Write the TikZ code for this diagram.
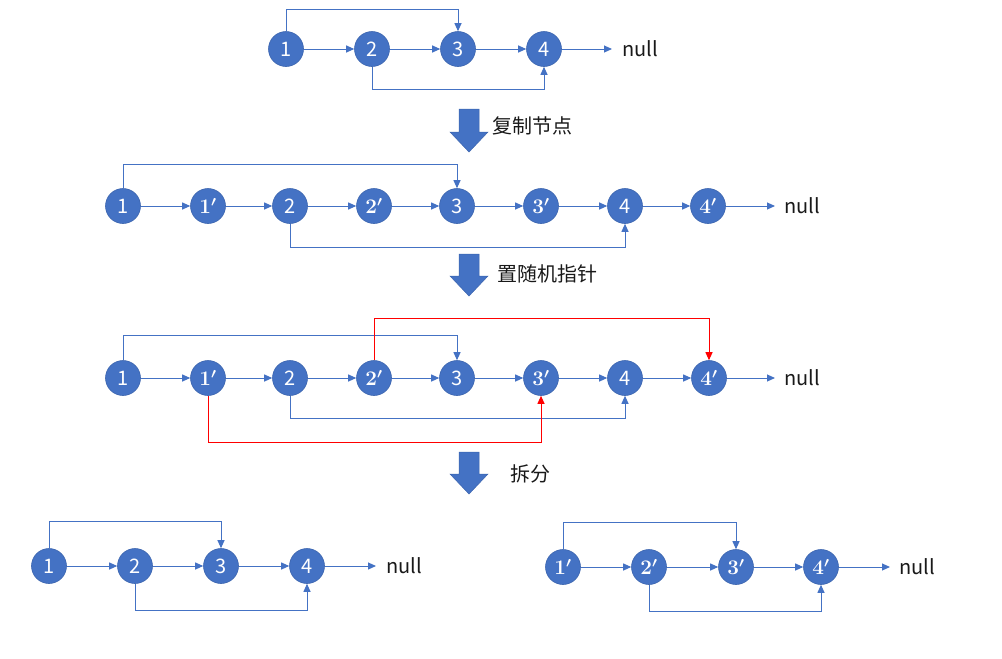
\documentclass[tikz,border=0pt]{standalone}
\usepackage{fontspec}
\setsansfont{Noto Sans CJK SC}
\newfontfamily\cjk{Noto Sans CJK SC}
\usetikzlibrary{arrows.meta}
\definecolor{nblue}{HTML}{4472C4}
\definecolor{nedge}{HTML}{3B64AE}
\definecolor{lred}{HTML}{FF0000}
\tikzset{
  lnode/.style={circle, minimum size=35pt, inner sep=0pt, fill=nblue, draw=nedge, line width=0.6pt, text=white, font=\fontsize{20}{20}\selectfont\sffamily},
  pnode/.style={lnode, font=\fontsize{20}{20}\selectfont\boldmath},
  link/.style={draw=nblue, line width=1pt, -{Triangle[length=8pt,width=7pt]}},
  rlink/.style={draw=lred, line width=1pt, -{Triangle[length=8pt,width=7pt]}},
  nulltxt/.style={inner sep=0pt, font=\fontsize{20}{20}\selectfont\sffamily, text=black!90},
  lbl/.style={inner sep=0pt, anchor=west, font=\fontsize{20}{20}\selectfont\cjk, text=black!90},
  bigarrow/.style={fill=nblue, draw=nedge, line width=0.5pt}
}
\begin{document}
\begin{tikzpicture}[x=1pt,y=-1pt]
\useasboundingbox (0,0) rectangle (1002,659);
% ---------- Row A ----------
\node[lnode] (a1) at (286,49) {1};
\node[lnode] (a2) at (372,49) {2};
\node[lnode] (a3) at (458,49) {3};
\node[lnode] (a4) at (544,49) {4};
\node[nulltxt] (an) at (640,49) {null};
\coordinate (ae) at (612,49);
\draw[link] (a1) -- (a2);
\draw[link] (a2) -- (a3);
\draw[link] (a3) -- (a4);
\draw[link] (a4) -- (ae);
\draw[link] (a1.north) -- ++(0,-22) -| (a3.north);
\draw[link] (a2.south) -- ++(0,23) -| (a4.south);
% ---------- Arrow 1 ----------
\draw[bigarrow] (459,109) -- (479,109) -- (479,132) -- (488,132) -- (469,152) -- (450,132) -- (459,132) -- cycle;
\node[lbl] (t1) at (492,126) {复制节点};
% ---------- Row B ----------
\node[lnode] (b1) at (123,206) {1};
\node[pnode] (b1p) at (208,206) {$1'$};
\node[lnode] (b2) at (290,206) {2};
\node[pnode] (b2p) at (374,206) {$2'$};
\node[lnode] (b3) at (457,206) {3};
\node[pnode] (b3p) at (541,206) {$3'$};
\node[lnode] (b4) at (625,206) {4};
\node[pnode] (b4p) at (708,206) {$4'$};
\node[nulltxt] (bn) at (802,206) {null};
\coordinate (be) at (775,206);
\draw[link] (b1) -- (b1p);
\draw[link] (b1p) -- (b2);
\draw[link] (b2) -- (b2p);
\draw[link] (b2p) -- (b3);
\draw[link] (b3) -- (b3p);
\draw[link] (b3p) -- (b4);
\draw[link] (b4) -- (b4p);
\draw[link] (b4p) -- (be);
\draw[link] (b1.north) -- ++(0,-24) -| (b3.north);
\draw[link] (b2.south) -- ++(0,23.5) -| (b4.south);
% ---------- Arrow 2 ----------
\draw[bigarrow] (459,254) -- (479,254) -- (479,276) -- (488,276) -- (469,296) -- (450,276) -- (459,276) -- cycle;
\node[lbl] (t2) at (497,274) {置随机指针};
% ---------- Row C ----------
\node[lnode] (c1) at (123,378) {1};
\node[pnode] (c1p) at (208,378) {$1'$};
\node[lnode] (c2) at (290,378) {2};
\node[pnode] (c2p) at (374,378) {$2'$};
\node[lnode] (c3) at (457,378) {3};
\node[pnode] (c3p) at (541,378) {$3'$};
\node[lnode] (c4) at (625,378) {4};
\node[pnode] (c4p) at (709,378) {$4'$};
\node[nulltxt] (cn) at (802,378) {null};
\coordinate (ce) at (775,378);
\draw[link] (c1) -- (c1p);
\draw[link] (c1p) -- (c2);
\draw[link] (c2) -- (c2p);
\draw[link] (c2p) -- (c3);
\draw[link] (c3) -- (c3p);
\draw[link] (c3p) -- (c4);
\draw[link] (c4) -- (c4p);
\draw[link] (c4p) -- (ce);
\draw[link] (c1.north) -- ++(0,-24.5) -| (c3.north);
\draw[link] (c2.south) -- ++(0,22.5) -| (c4.south);
\draw[rlink] (c2p.north) -- ++(0,-41.5) -| (c4p.north);
\draw[rlink] (c1p.south) -- ++(0,46.5) -| (c3p.south);
% ---------- Arrow 3 ----------
\draw[bigarrow] (459,452) -- (479,452) -- (479,474) -- (488,474) -- (469,494) -- (450,474) -- (459,474) -- cycle;
\node[lbl] (t3) at (510,474) {拆分};
% ---------- Row D left ----------
\node[lnode] (d1) at (49,566) {1};
\node[lnode] (d2) at (135,566) {2};
\node[lnode] (d3) at (221,566) {3};
\node[lnode] (d4) at (307,566) {4};
\node[nulltxt] (dn) at (404,566) {null};
\coordinate (de) at (376,566);
\draw[link] (d1) -- (d2);
\draw[link] (d2) -- (d3);
\draw[link] (d3) -- (d4);
\draw[link] (d4) -- (de);
\draw[link] (d1.north) -- ++(0,-26.5) -| (d3.north);
\draw[link] (d2.south) -- ++(0,26.5) -| (d4.south);
% ---------- Row D right ----------
\node[pnode] (e1) at (563,567) {$1'$};
\node[pnode] (e2) at (649,567) {$2'$};
\node[pnode] (e3) at (736,567) {$3'$};
\node[pnode] (e4) at (821,567) {$4'$};
\node[nulltxt] (en) at (917,567) {null};
\coordinate (ee) at (890,567);
\draw[link] (e1) -- (e2);
\draw[link] (e2) -- (e3);
\draw[link] (e3) -- (e4);
\draw[link] (e4) -- (ee);
\draw[link] (e1.north) -- ++(0,-26.5) -| (e3.north);
\draw[link] (e2.south) -- ++(0,26.5) -| (e4.south);
\end{tikzpicture}
\end{document}
